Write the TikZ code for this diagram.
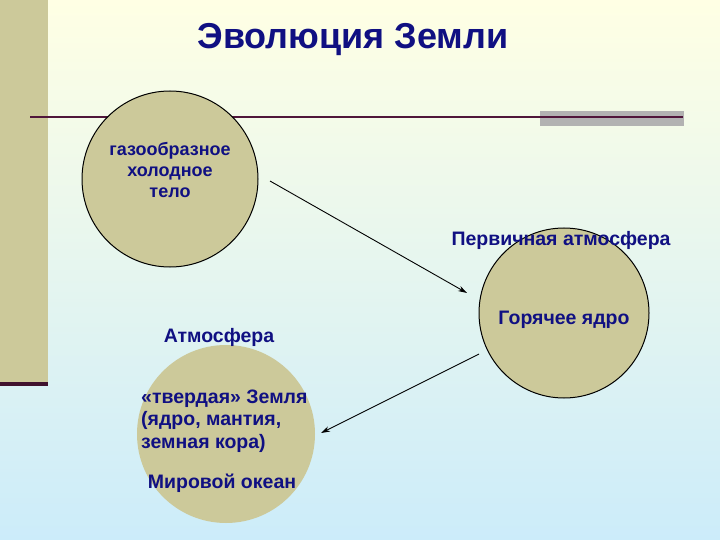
\documentclass[tikz,border=0pt]{standalone}
\usepackage{fontspec}
\setmainfont{Liberation Sans}
\usetikzlibrary{arrows.meta}
\definecolor{navytxt}{RGB}{16,16,130}
\definecolor{khaki}{RGB}{204,201,154}
\definecolor{maroonline}{RGB}{80,22,58}
\definecolor{graybar}{RGB}{178,178,178}
\definecolor{bgtop}{RGB}{255,255,228}
\definecolor{bgbot}{RGB}{204,236,250}
\tikzset{
  ball/.style={circle, fill=khaki, minimum size=#1, inner sep=0pt},
  ballline/.style={draw=black, line width=1pt},
  lbl/.style={text=navytxt, font=\bfseries\fontsize{19.5}{21}\selectfont, inner sep=0pt},
  conn/.style={draw=black, line width=0.9pt, -{Stealth[length=9pt,width=5.5pt]}}
}
\begin{document}
\begin{tikzpicture}[x=1pt,y=-1pt]
\useasboundingbox (0,0) rectangle (720,540);
\shade[top color=bgtop, bottom color=bgbot] (0,0) rectangle (720,540);
% left bar
\fill[khaki] (0,0) rectangle (48,382);
\fill[maroonline!80!black] (0,382) rectangle (48,386);
% gray bar and line
\fill[graybar] (540,111) rectangle (684,126);
\draw[maroonline, line width=2pt] (30,117) -- (683,117);
% title
\node[text=navytxt, font=\bfseries\fontsize{36}{42}\selectfont, inner sep=0pt] (title) at (353,40) {Эволюция Земли};
% circles
\node[ball=176pt, ballline] (c1) at (170,179) {};
\node[ball=170pt, ballline] (c2) at (564,313) {};
\node[ball=178pt] (c3) at (226,434) {};
% circle 1 text
\node[lbl, font=\bfseries\fontsize{18}{21}\selectfont, align=center] (t1) at (170,170) {газообразное\\холодное\\тело};
% circle 2 texts
\node[lbl] (t2a) at (561,240) {Первичная атмосфера};
\node[lbl] (t2b) at (564,320) {Горячее ядро};
% circle 3 texts
\node[lbl] (t3a) at (219,337) {Атмосфера};
\node[lbl, align=left, anchor=west] (t3b) at (141,421) {«твердая» Земля\\[1.5pt](ядро, мантия,\\[1.5pt]земная кора)};
\node[lbl] (t3c) at (222,483) {Мировой океан};
% arrows
\coordinate (a1s) at (270,181);
\coordinate (a1e) at (467,293);
\coordinate (a2s) at (479,354);
\coordinate (a2e) at (321,433);
\draw[conn] (a1s) -- (a1e);
\draw[conn] (a2s) -- (a2e);
\end{tikzpicture}
\end{document}
